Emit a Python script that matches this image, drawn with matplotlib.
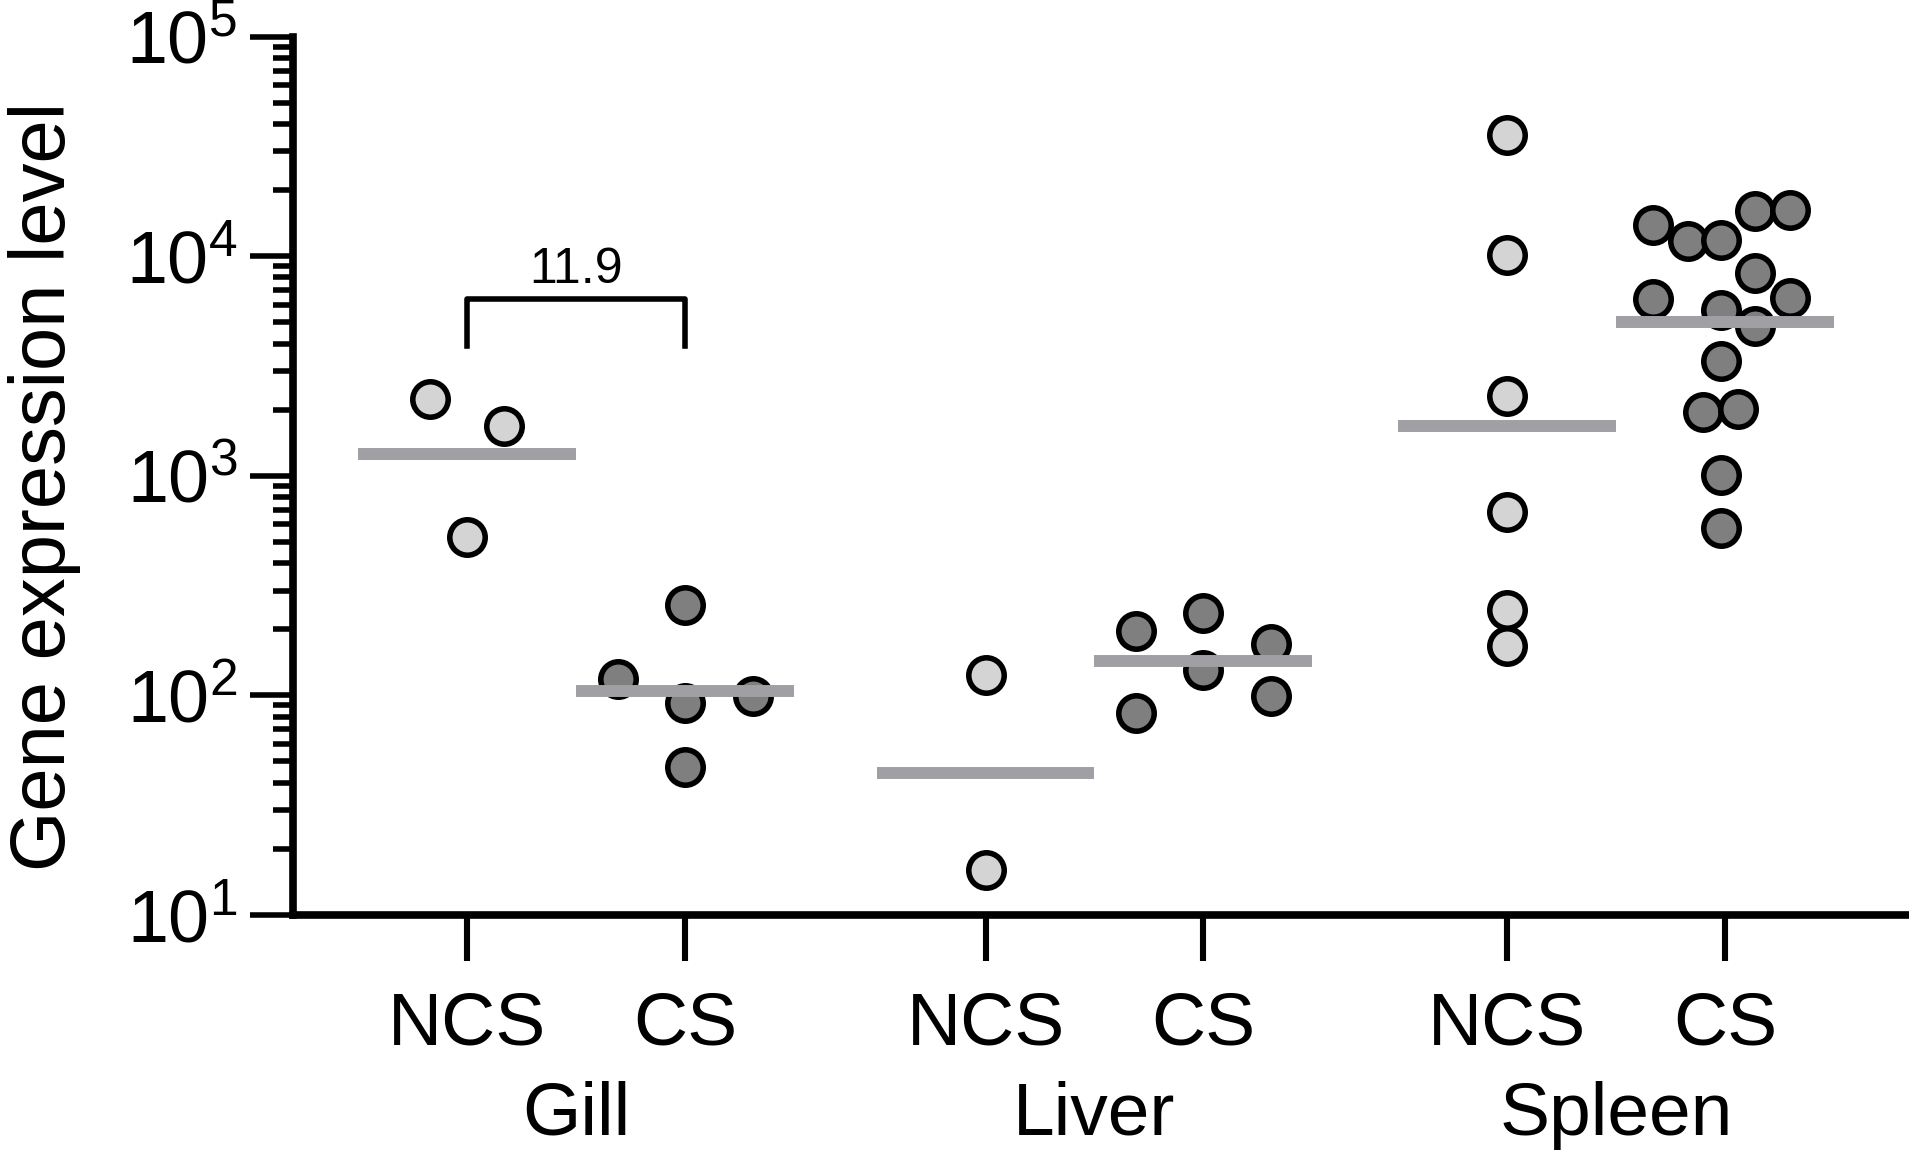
import math
import matplotlib
matplotlib.use('Agg')
import matplotlib.pyplot as plt
from matplotlib.ticker import LogLocator, FuncFormatter, NullFormatter

plt.rcParams['font.family'] = ['Liberation Sans', 'DejaVu Sans']
plt.rcParams['mathtext.fontset'] = 'custom'
plt.rcParams['mathtext.rm'] = 'Liberation Sans'

tissues = ['Gill', 'Liver', 'Spleen']
conditions = ['NCS', 'CS', 'NCS', 'CS', 'NCS', 'CS']
positions = [0, 1, 2.38, 3.38, 4.775, 5.775]

# values
gill_ncs = [2230, 1690, 527]
gill_cs = [119, 258, 92, 99, 47]
liver_ncs = [124, 16]
liver_cs = [196, 238, 131, 171, 83, 99]
spleen_ncs = [35600, 10100, 2300, 683, 246, 167]
spleen_cs = [13900, 11700, 11900, 16100, 16200, 8360, 6370, 5700, 6460,
             4810, 3340, 1960, 2010, 1010, 577]

# sideways spread of the dots in each column
gill_ncs_dx = [-0.17, 0.17, 0]
gill_cs_dx = [-0.31, 0, 0, 0.31, 0]
liver_ncs_dx = [0, 0]
liver_cs_dx = [-0.31, 0, 0, 0.31, -0.31, 0.31]
spleen_ncs_dx = [0, 0, 0, 0, 0, 0]
spleen_cs_dx = [-0.33, -0.17, -0.02, 0.14, 0.30, 0.14, -0.33, -0.02, 0.30,
                0.14, -0.02, -0.10, 0.06, -0.02, -0.02]

group_means = [1260, 105, 44.5, 143, 1690, 5020]
fold_label = '11.9'

groups = [gill_ncs, gill_cs, liver_ncs, liver_cs, spleen_ncs, spleen_cs]
spreads = [gill_ncs_dx, gill_cs_dx, liver_ncs_dx, liver_cs_dx, spleen_ncs_dx, spleen_cs_dx]
fills = ['#d4d4d4', '#7f7f7f'] * 3

fig = plt.figure(figsize=(19.09, 11.57), dpi=100)
ax = fig.add_axes([0.1535, 0.2092, 0.8465, 0.7592])

for i in range(len(groups)):
    xs = [positions[i] + d for d in spreads[i]]
    ax.plot(xs, groups[i], 'o', ms=25.5, mfc=fills[i], mec='black', mew=4.0,
            zorder=3, clip_on=False)
    ax.plot([positions[i] - 0.5, positions[i] + 0.5], [group_means[i]] * 2,
            color='#a0a0a4', lw=8.6, solid_capstyle='butt', zorder=4)

# bracket between gill groups
ax.plot([positions[0], positions[0], positions[1], positions[1]],
        [3890, 6410, 6410, 3890], color='black', lw=4, zorder=5)
ax.text((positions[0] + positions[1]) / 2, 7550, fold_label, ha='center',
        va='baseline', fontsize=36)

ax.set_yscale('log')
ax.set_ylim(10, 1e5)
ax.set_xlim(-0.80, 6.62)
ax.yaxis.set_major_locator(LogLocator(base=10, numticks=10))
ax.yaxis.set_minor_locator(LogLocator(base=10, subs=range(2, 10), numticks=10))
ax.yaxis.set_major_formatter(FuncFormatter(lambda v, p: r'$\mathregular{10^{%d}}$' % round(math.log10(v))))
ax.yaxis.set_minor_formatter(NullFormatter())

ax.spines['top'].set_visible(False)
ax.spines['right'].set_visible(False)
ax.spines['left'].set_linewidth(5.5)
ax.spines['bottom'].set_linewidth(5.5)
ax.tick_params(axis='y', which='major', length=31, width=4, labelsize=53, pad=9)
ax.tick_params(axis='y', which='minor', length=14.5, width=4)
ax.tick_params(axis='x', which='major', length=33, width=4.4)
ax.set_xticks(positions)
ax.set_xticklabels([])

for i in range(len(positions)):
    ax.text(positions[i], -0.147, conditions[i], transform=ax.get_xaxis_transform(),
            ha='center', va='baseline', fontsize=54)
for j in range(len(tissues)):
    mid = (positions[2 * j] + positions[2 * j + 1]) / 2
    ax.text(mid, -0.25, tissues[j], transform=ax.get_xaxis_transform(),
            ha='center', va='baseline', fontsize=54)

fig.text(0.0235, 0.58, 'Gene expression level', rotation=90, ha='center',
         va='center', fontsize=56)

fig.savefig('out.png', dpi=100)
